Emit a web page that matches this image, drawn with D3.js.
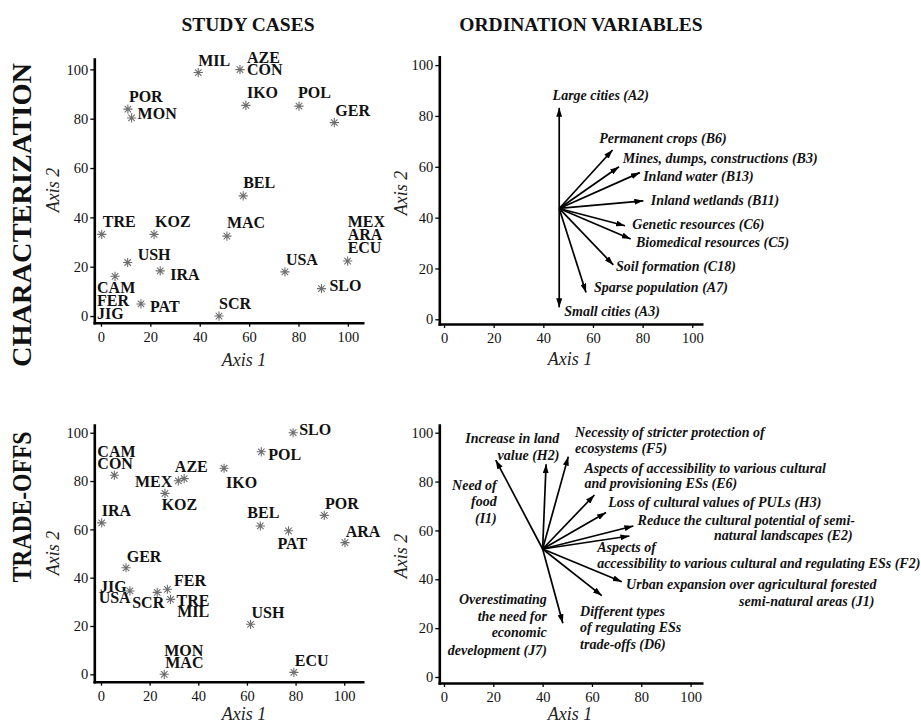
<!DOCTYPE html>
<html>
<head>
<meta charset="utf-8">
<script src="https://cdn.jsdelivr.net/npm/d3@7"></script>
<style>
  body { margin: 0; background: #fff; }
  svg { display: block; font-family: "Liberation Serif", "Times New Roman", serif; }
</style>
</head>
<body>
<svg id="chart" width="921" height="724"></svg>
<script>
// ---------------- data ----------------
const tickValues = [0, 20, 40, 60, 80, 100];

// Characterization – study cases (names listed together share one position)
const charCaseNames = [["MIL"], ["AZE", "CON"], ["IKO"], ["POL"], ["GER"], ["POR"], ["MON"], ["BEL"],
  ["TRE"], ["KOZ"], ["MAC"], ["USH"], ["IRA"], ["CAM", "FER", "JIG"], ["PAT"], ["SCR"], ["USA"],
  ["MEX", "ARA", "ECU"], ["SLO"]];
const charCaseAxis1 = [39.4, 56.3, 58.7, 80.2, 94.5, 10.9, 12.4, 57.6, 0.3, 21.5, 51.0, 10.8, 24.0, 5.7, 16.2, 47.8, 74.5, 99.9, 89.3];
const charCaseAxis2 = [98.7, 99.9, 85.4, 85.1, 78.4, 83.9, 80.3, 48.7, 33.1, 33.1, 32.4, 21.7, 18.3, 16.1, 4.9, 0.0, 17.9, 22.3, 11.1];

// Trade-offs – study cases
const tradeCaseNames = [["SLO"], ["POL"], ["CAM", "CON"], ["MEX"], ["AZE"], ["KOZ"], ["IKO"], ["IRA"], ["BEL"],
  ["PAT"], ["POR"], ["ARA"], ["GER"], ["JIG", "USA"], ["SCR"], ["FER"], ["TRE", "MIL"], ["USH"], ["MON", "MAC"], ["ECU"]];
const tradeCaseAxis1 = [79.0, 65.9, 5.5, 31.8, 34.2, 26.3, 50.6, 0.3, 65.5, 77.1, 91.8, 100.3, 10.3, 11.9, 23.1, 27.3, 28.6, 61.5, 26.0, 79.3];
const tradeCaseAxis2 = [100.0, 92.1, 82.4, 80.1, 81.0, 74.9, 85.3, 62.7, 61.4, 59.4, 65.8, 54.5, 44.1, 34.5, 33.9, 35.2, 31.0, 20.7, 0.0, 0.8];

// Characterization – ordination variables (arrows from a common origin)
const charVarOrigin = [46.4, 43.6];
const charVarLabels = [["Large cities (A2)"], ["Permanent crops (B6)"], ["Mines, dumps, constructions (B3)"],
  ["Inland water (B13)"], ["Inland wetlands (B11)"], ["Genetic resources (C6)"], ["Biomedical resources (C5)"],
  ["Soil formation (C18)"], ["Sparse population (A7)"], ["Small cities (A3)"]];
const charVarAxis1 = [46.4, 67.9, 70.5, 78.9, 80.3, 72.9, 75.2, 68.2, 57.2, 46.4];
const charVarAxis2 = [83.2, 66.6, 60.0, 57.7, 46.6, 36.8, 31.6, 21.4, 10.5, 4.7];

// Trade-offs – ordination variables
const tradeVarOrigin = [40.0, 52.4];
const tradeVarLabels = [
  ["Need of", "food", "(I1)"],
  ["Increase in land", "value (H2)"],
  ["Necessity of stricter protection of", "ecosystems (F5)"],
  ["Aspects of accessibility to various cultural", "and provisioning ESs (E6)"],
  ["Loss of cultural values of PULs (H3)"],
  ["Reduce the cultural potential of semi-", "natural landscapes (E2)"],
  ["Aspects of", "accessibility to various cultural and regulating ESs (F2)"],
  ["Urban expansion over agricultural forested", "semi-natural areas (J1)"],
  ["Different types", "of regulating ESs", "trade-offs (D6)"],
  ["Overestimating", "the need for", "economic", "development (J7)"]];
const tradeVarAxis1 = [21.0, 41.4, 50.4, 61.0, 65.7, 76.8, 75.2, 72.1, 64.0, 48.2];
const tradeVarAxis2 = [88.8, 87.1, 90.2, 74.5, 67.3, 61.8, 57.7, 39.0, 33.3, 22.0];

// ---------------- layout ----------------
// label offsets in pixels from the mark: [dx, dy(baseline), anchor]
const charCaseLabelPos = [[[0, -7]], [[7, -6.6], [7, 5.5]], [[1, -7]], [[-1, -8]], [[1, -7]], [[1, -7]], [[6, 1.5]],
  [[0, -8]], [[1, -7]], [[1, -7]], [[0, -8]], [[10, -2.3]], [[10, 9.6]], [[-18, 16.4], [-18, 29.7], [-18, 43]],
  [[9, 7.7]], [[0, -7]], [[1, -7]], [[0, -34], [0, -21], [0, -8]], [[8, 2.3]]];
const tradeCaseLabelPos = [[[6, 2.3]], [[7, 8.3]], [[-17, -18], [-17, -6.3]], [[-6, 6, "end"]], [[-9.3, -7]],
  [[-3.3, 16.7]], [[2, 19.4]], [[0, -7]], [[-13, -7.7]], [[-11, 18.3]], [[0.7, -6.3]], [[0.7, -6]], [[0.7, -6]],
  [[-30, 0.7], [-31.3, 11.7]], [[-25, 15.4]], [[6.7, -3.6]], [[6, 6.4], [6.6, 17.4]], [[1, -6.6]],
  [[0, -18.6], [1, -6]], [[1, -6.3]]];
const charVarLabelPos = [[[-6.6, -7.7]], [[-13.4, -6.7]], [[3.7, -3.6]], [[3.3, 8]], [[7.4, 4.3]], [[7.3, 3.6]],
  [[5.3, 7.7]], [[2.7, 5.7]], [[8, -1]], [[5, 8.7]]];
const tradeVarLabelPos = [
  [[1, 30, "end"], [1, 46, "end"], [1, 63, "end"]],
  [[13.3, -21, "end"], [13.3, -4.3, "end"]],
  [[6.7, -20], [6.7, -3.4]],
  [[-10, -21.7], [-10, -6.7]],
  [[2.3, -5.4]],
  [[4.2, -1], [80.7, 14]],
  [[-32.3, 15.7], [-32.3, 32]],
  [[4.3, 7.3], [117.3, 24.3]],
  [[-21.7, 20.3], [-21.7, 36.8], [-21.7, 53.3]],
  [[-16, -19.3, "end"], [-16, -2.3, "end"], [-16, 14.2, "end"], [-16, 31.7, "end"]]];

const FONT = '"Liberation Serif", "Times New Roman", serif';
const svg = d3.select("#chart");

svg.append("defs").append("marker")
  .attr("id", "arrowhead")
  .attr("viewBox", "0 0 10 10")
  .attr("refX", 10).attr("refY", 5)
  .attr("markerWidth", 9).attr("markerHeight", 6)
  .attr("markerUnits", "userSpaceOnUse")
  .attr("preserveAspectRatio", "none")
  .attr("orient", "auto")
  .append("path").attr("d", "M0,0L10,5L0,10Z").attr("fill", "#000");

function buildPanel(cfg) {
  const x = d3.scaleLinear().domain(cfg.xDomain).range(cfg.xRange);
  const y = d3.scaleLinear().domain(cfg.yDomain).range(cfg.yRange);
  const g = svg.append("g");

  const xa = g.append("g").attr("transform", `translate(0,${cfg.yRange[0]})`)
    .call(d3.axisBottom(x).tickValues(tickValues).tickSize(4).tickPadding(5).tickSizeOuter(0));
  const ya = g.append("g").attr("transform", `translate(${cfg.xRange[0]},0)`)
    .call(d3.axisLeft(y).tickValues(tickValues).tickSize(4).tickPadding(2).tickSizeOuter(0));
  [xa, ya].forEach(a => {
    a.attr("font-family", FONT).attr("font-size", 14.5);
    a.select(".domain").attr("stroke", "#000").attr("stroke-width", 2.6).attr("stroke-linecap", "square");
    a.selectAll(".tick line").attr("stroke", "#000").attr("stroke-width", 1.3);
    a.selectAll(".tick text").attr("fill", "#111");
  });

  g.append("text")
    .attr("x", cfg.xTitle[0]).attr("y", cfg.xTitle[1])
    .attr("text-anchor", "middle").attr("dominant-baseline", "central")
    .attr("font-style", "italic").attr("font-size", 18).attr("fill", "#222")
    .text("Axis 1");
  g.append("text")
    .attr("transform", `translate(${cfg.yTitle[0]},${cfg.yTitle[1]}) rotate(-90)`)
    .attr("text-anchor", "middle").attr("dominant-baseline", "central")
    .attr("font-style", "italic").attr("font-size", 18).attr("fill", "#222")
    .text("Axis 2");
  return { g, x, y };
}

// asterisk marker: "+" overlaid with "x"
function starPath(cx, cy, r) {
  const d = r * Math.SQRT1_2;
  return `M${cx - r},${cy}H${cx + r}M${cx},${cy - r}V${cy + r}` +
         `M${cx - d},${cy - d}L${cx + d},${cy + d}M${cx - d},${cy + d}L${cx + d},${cy - d}`;
}

function drawCases(p, names, a1, a2, pos) {
  const pts = names.map((n, i) => ({ names: n, px: p.x(a1[i]), py: p.y(a2[i]), pos: pos[i] }));
  p.g.append("g").selectAll("path").data(pts).join("path")
    .attr("d", d => starPath(d.px, d.py, 4.6))
    .attr("stroke", "#6e6e6e").attr("stroke-width", 1.1).attr("fill", "none");
  const lab = p.g.append("g").attr("font-weight", "bold").attr("font-size", 16).attr("fill", "#111");
  pts.forEach(d => {
    d.names.forEach((n, j) => {
      const o = d.pos[j];
      lab.append("text")
        .attr("x", d.px + o[0]).attr("y", d.py + o[1])
        .attr("text-anchor", o[2] || "start")
        .text(n);
    });
  });
}

function drawVariables(p, origin, labels, a1, a2, pos) {
  const ox = p.x(origin[0]), oy = p.y(origin[1]);
  const arrows = labels.map((l, i) => ({ lines: l, tx: p.x(a1[i]), ty: p.y(a2[i]), pos: pos[i] }));
  p.g.append("g").selectAll("line").data(arrows).join("line")
    .attr("x1", ox).attr("y1", oy)
    .attr("x2", d => d.tx).attr("y2", d => d.ty)
    .attr("stroke", "#000").attr("stroke-width", 1.7)
    .attr("marker-end", "url(#arrowhead)");
  const lab = p.g.append("g").attr("font-weight", "bold").attr("font-style", "italic")
    .attr("font-size", 14).attr("fill", "#111");
  arrows.forEach(d => {
    d.lines.forEach((t, j) => {
      const o = d.pos[j];
      lab.append("text")
        .attr("x", d.tx + o[0]).attr("y", d.ty + o[1])
        .attr("text-anchor", o[2] || "start")
        .text(t);
    });
  });
}

// ---------------- panels ----------------
const charCases = buildPanel({
  xDomain: [-2.7, 106], xRange: [94.3, 362.7],
  yDomain: [-2.7, 104.2], yRange: [322.7, 59],
  xTitle: [244, 360], yTitle: [53, 190]
});
drawCases(charCases, charCaseNames, charCaseAxis1, charCaseAxis2, charCaseLabelPos);

const tradeCases = buildPanel({
  xDomain: [-2.75, 107.6], xRange: [94.3, 362.7],
  yDomain: [-3.06, 103.2], yRange: [681.7, 425],
  xTitle: [244, 713.5], yTitle: [53, 553]
});
drawCases(tradeCases, tradeCaseNames, tradeCaseAxis1, tradeCaseAxis2, tradeCaseLabelPos);

const charVars = buildPanel({
  xDomain: [-1.9, 103.8], xRange: [439.3, 701.7],
  yDomain: [-1.85, 103.3], yRange: [324, 56.7],
  xTitle: [570, 359], yTitle: [401, 193]
});
drawVariables(charVars, charVarOrigin, charVarLabels, charVarAxis1, charVarAxis2, charVarLabelPos);

const tradeVars = buildPanel({
  xDomain: [-1.9, 104.5], xRange: [439.3, 701.7],
  yDomain: [-2.46, 103.15], yRange: [683, 425],
  xTitle: [570, 713.5], yTitle: [401, 556]
});
drawVariables(tradeVars, tradeVarOrigin, tradeVarLabels, tradeVarAxis1, tradeVarAxis2, tradeVarLabelPos);

// ---------------- headings ----------------
svg.append("text").attr("x", 248).attr("y", 30.5).attr("text-anchor", "middle")
  .attr("font-weight", "bold").attr("font-size", 19.5).attr("fill", "#111").text("STUDY CASES");
svg.append("text").attr("x", 581).attr("y", 30.5).attr("text-anchor", "middle")
  .attr("font-weight", "bold").attr("font-size", 19.5).attr("fill", "#111").text("ORDINATION VARIABLES");

svg.append("text")
  .attr("transform", "translate(22,215) rotate(-90)")
  .attr("text-anchor", "middle").attr("dominant-baseline", "central")
  .attr("font-weight", "bold").attr("font-size", 26.5).attr("fill", "#111")
  .attr("textLength", 304).attr("lengthAdjust", "spacingAndGlyphs")
  .text("CHARACTERIZATION");
svg.append("text")
  .attr("transform", "translate(22,507) rotate(-90)")
  .attr("text-anchor", "middle").attr("dominant-baseline", "central")
  .attr("font-weight", "bold").attr("font-size", 26.5).attr("fill", "#111")
  .attr("textLength", 151).attr("lengthAdjust", "spacingAndGlyphs")
  .text("TRADE-OFFS");
</script>
</body>
</html>
